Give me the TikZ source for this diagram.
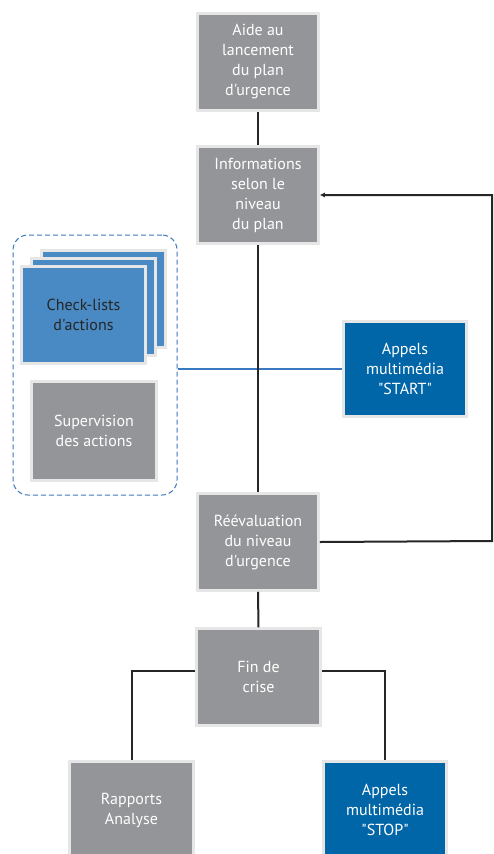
\documentclass[tikz,border=0pt]{standalone}
\usepackage{fontspec}
\setmainfont{PT Sans}[Ligatures=TeXOff]
\usetikzlibrary{arrows.meta,calc}
\definecolor{boxgray}{HTML}{939598}
\definecolor{boxblue}{HTML}{0066A8}
\definecolor{lightblue}{HTML}{4A8AC4}
\definecolor{rim}{HTML}{E6E6E6}
\definecolor{dashblue}{HTML}{3A78C0}
\tikzset{
  box/.style={rectangle, draw=rim, line width=2.5pt, fill=boxgray, text=white,
    minimum width=121pt, minimum height=97pt, align=center, inner sep=2pt,
    font=\fontsize{16}{20}\selectfont},
  bluebox/.style={box, fill=boxblue},
  checkbox/.style={box, fill=lightblue, text={black!85}},
  link/.style={draw=black!85, line width=2pt},
  bluelink/.style={draw=dashblue, line width=1.4pt},
  group/.style={draw=dashblue, dashed, dash pattern=on 5pt off 3pt, line width=1pt, rounded corners=15pt}
}
\begin{document}
\begin{tikzpicture}[x=1pt,y=-1pt]
\useasboundingbox[fill=white] (0,0) rectangle (494,854);
\node[group, minimum width=164pt, minimum height=260pt] (grp) at (95,365) {};
\node[checkbox, minimum width=124pt] (ck3) at (103.5,299) {};
\node[checkbox, minimum width=124pt] (ck2) at (93.5,307) {};
\node[checkbox, minimum width=124pt] (ck1) at (83.5,315) {Check-lists\\d'actions};
\node[box, minimum width=125pt, minimum height=99pt] (sup) at (94,431) {Supervision\\des actions};

\node[box] (aide) at (258,62) {Aide au\\lancement\\du plan\\d'urgence};
\node[box] (info) at (258,195) {Informations\\selon le\\niveau\\du plan};
\node[bluebox, minimum width=123pt, minimum height=95pt] (start) at (405,369) {Appels\\multimédia\\"START"};
\node[box] (reeval) at (258,542) {Réévaluation\\du niveau\\d'urgence};
\node[box, minimum width=124pt] (fin) at (258.5,677) {Fin de\\crise};
\node[box, minimum width=124pt] (rap) at (131.5,810) {Rapports\\Analyse};
\node[bluebox, minimum width=123pt] (stop) at (385,810) {Appels\\multimédia\\"STOP"};

\coordinate (loopR) at (492,541);

\draw[bluelink] (start.west) -- (start.west -| grp.east);
\draw[link] (aide.south) -- (info.north);
\draw[link] (info.south) -- (reeval.north);
\draw[link] (reeval.south) -- (fin.north);
\draw[link] ([yshift=6pt]fin.west) -| (rap.north);
\draw[link] ([yshift=6pt]fin.east) -| (stop.north);
\draw[link, -{Latex[length=5pt,width=5pt]}] (reeval.east) -- (loopR) |- (info.east);
\end{tikzpicture}
\end{document}
